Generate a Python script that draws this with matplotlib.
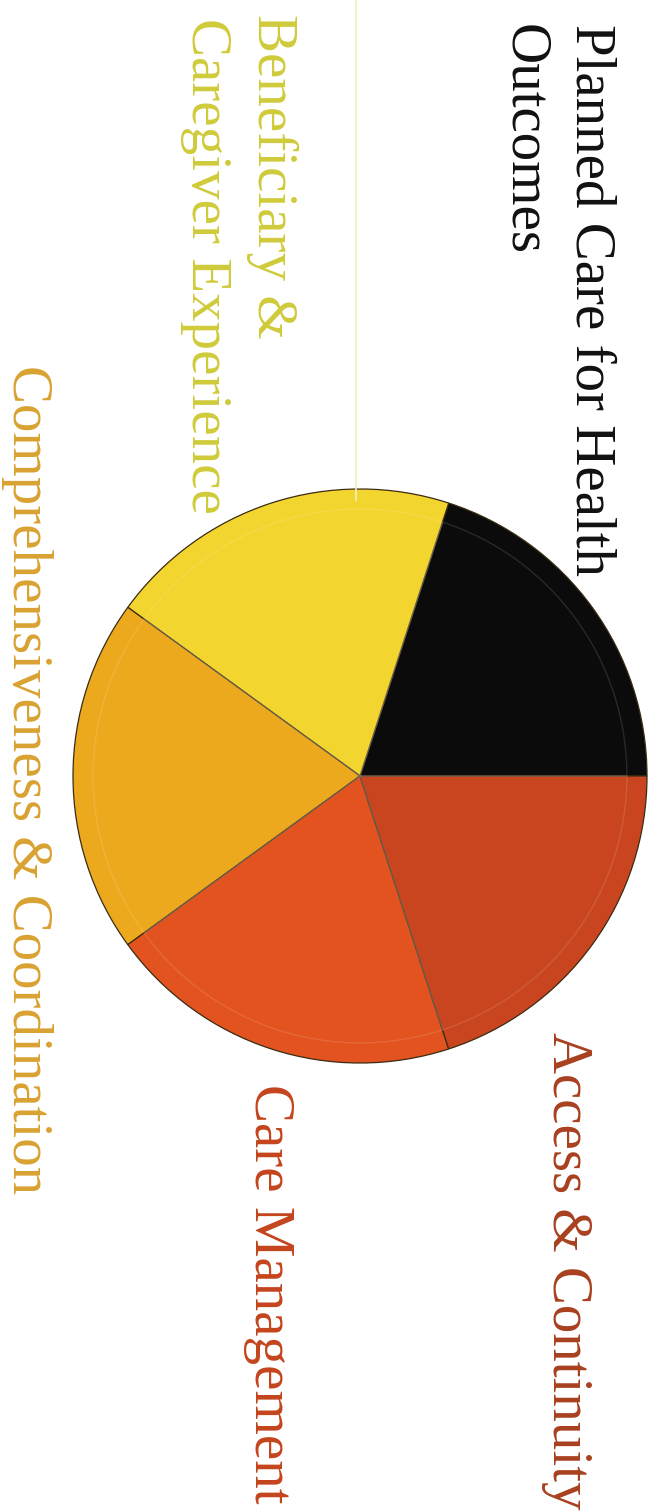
import matplotlib
matplotlib.use("Agg")
import matplotlib.pyplot as plt
from matplotlib.lines import Line2D

W, H = 652, 1511

# five equal domains of the model
domains = ["Planned Care for Health Outcomes", "Beneficiary & Caregiver Experience",
           "Comprehensiveness & Coordination", "Care Management", "Access & Continuity"]
shares = [20, 20, 20, 20, 20]
slice_colors = ["#0b0b0b", "#f3d52f", "#eda91d", "#e2531f", "#c8451f"]

# label lines (rotated text), one entry per printed line
label_lines = ["Planned Care for Health", "Outcomes",
               "Beneficiary &", "Caregiver Experience",
               "Comprehensiveness & Coordination",
               "Access & Continuity", "Care Management"]
label_colors = ["#111111", "#111111", "#cfcb3a", "#cfcb3a",
                "#d9a232", "#a8401f", "#c4441d"]
# baseline x / start y in pixels
label_pos = [(577, 24), (510, 24), (258, 14), (192, 18),
             (13, 365), (553, 1032), (255, 1084)]
label_sizes = [41, 41, 41, 41, 41, 41, 41]

fig = plt.figure(figsize=(W / 100, H / 100), dpi=100)
fig.patch.set_facecolor("white")

# faint fold line above the pie
fig.add_artist(Line2D([356 / W, 356 / W], [1, 1 - 500 / H], transform=fig.transFigure,
                      color="#f4efc4", lw=1.2))

cx, cy, r = 360, 776, 287
pad = 1.02
ax = fig.add_axes([(cx - r * pad) / W, 1 - (cy + r * pad) / H, 2 * r * pad / W, 2 * r * pad / H])
ax.pie(shares, colors=slice_colors, startangle=0, counterclock=True,
       wedgeprops=dict(edgecolor="#3b2c12", linewidth=0.9))
# soft bevel highlight inside each slice
ax.pie(shares, colors=["none"] * 5, startangle=0, counterclock=True, radius=0.93,
       wedgeprops=dict(edgecolor="white", linewidth=1.0, alpha=0.12))
ax.set_xlim(-pad, pad)
ax.set_ylim(-pad, pad)
ax.set_aspect("equal")
ax.axis("off")

for txt, col, (px, py), fs in zip(label_lines, label_colors, label_pos, label_sizes):
    fig.text(px / W, 1 - py / H, txt, color=col, family="Liberation Serif", fontsize=fs,
             rotation=-90, rotation_mode="anchor", ha="left", va="baseline")

fig.savefig("out.png", dpi=100)
